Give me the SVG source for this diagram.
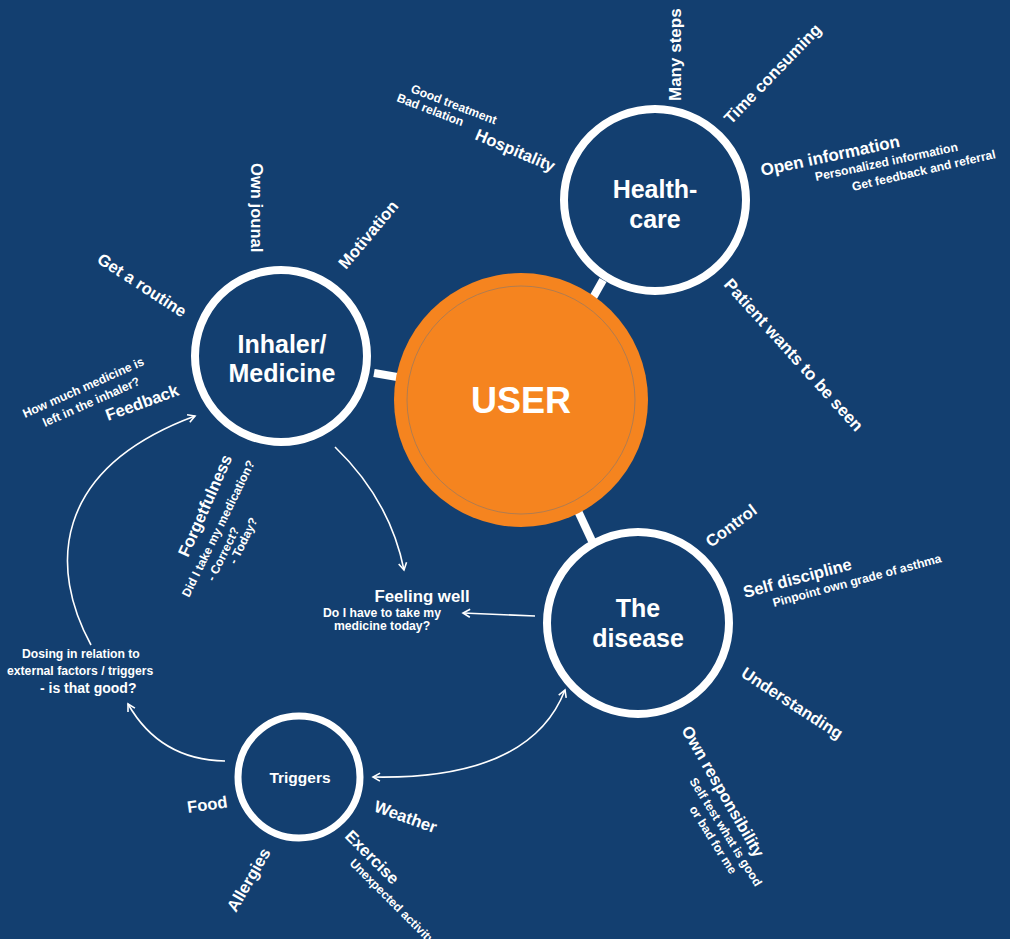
<svg xmlns="http://www.w3.org/2000/svg" width="1010" height="939" viewBox="0 0 1010 939">
<defs>
<style>
.t{font-family:"Liberation Sans",Arial,sans-serif;font-weight:bold;fill:#fff}
.ring{fill:none;stroke:#fff;stroke-width:8}
.link{stroke:#fff;stroke-width:8;stroke-linecap:butt}
.arr{fill:none;stroke:#fff;stroke-width:1.6}
.f16{font-size:16.6px}
.f12{font-size:12.2px}
.big{font-size:25px}
</style>
<marker id="ah" viewBox="-10 -6 12 12" markerWidth="12" markerHeight="12" refX="0" refY="0" orient="auto-start-reverse" markerUnits="userSpaceOnUse">
<path d="M -7 -4 L 0 0 L -7 4" fill="none" stroke="#fff" stroke-width="1.6"/>
</marker>
</defs>
<rect x="0" y="0" width="1010" height="939" fill="#133F70"/>

<g id="connectors">
<line class="link" x1="374" y1="373" x2="403" y2="378"/>
<line class="link" x1="590" y1="303" x2="603" y2="280"/>
<line class="link" x1="578" y1="511" x2="592" y2="541"/>
<path class="arr" d="M 335 447 Q 390 500 404 570" marker-end="url(#ah)"/>
<path class="arr" d="M 535 616 L 463 613" marker-end="url(#ah)"/>
<path class="arr" d="M 565 690 Q 530 780 373 777" marker-start="url(#ah)" marker-end="url(#ah)"/>
<path class="arr" d="M 225 761 Q 160 760 128 704" marker-end="url(#ah)"/>
<path class="arr" d="M 91 645 C 50 570 50 470 195 416" marker-end="url(#ah)"/>
</g>

<g id="user">
<circle cx="521" cy="400" r="127" fill="#F5841F"/>
<circle cx="521" cy="400" r="114" fill="none" stroke="#a07a5c" stroke-width="0.8"/>
<text class="t" x="521" y="413" font-size="36" text-anchor="middle">USER</text>
</g>

<g id="healthcare">
<circle class="ring" cx="655" cy="200" r="91"/>
<text class="t big" x="655" y="198" text-anchor="middle">Health-</text>
<text class="t big" x="655" y="228" text-anchor="middle">care</text>
<text class="t f16" transform="translate(474,139) rotate(23)">Hospitality</text>
<text class="t f12" transform="translate(410,92) rotate(21)">Good treatment</text>
<text class="t f12" transform="translate(396,101) rotate(21)">Bad relation</text>
<text class="t" font-size="17" transform="translate(681,101) rotate(-90)">Many steps</text>
<text class="t f16" transform="translate(731,125) rotate(-46)">Time consuming</text>
<text class="t" font-size="17" transform="translate(762,176) rotate(-12)">Open information</text>
<text class="t f12" transform="translate(816,181) rotate(-12)">Personalized information</text>
<text class="t f12" transform="translate(853,191) rotate(-13)">Get feedback and referral</text>
<text class="t" font-size="17" transform="translate(723,285) rotate(48)">Patient wants to be seen</text>
</g>

<g id="inhaler">
<circle class="ring" cx="281" cy="356" r="86"/>
<text class="t big" x="282" y="353" text-anchor="middle">Inhaler/</text>
<text class="t big" x="282" y="382" text-anchor="middle">Medicine</text>
<text class="t f16" transform="translate(251,163) rotate(90)">Own jounal</text>
<text class="t f16" transform="translate(346,270) rotate(-50)">Motivation</text>
<text class="t f16" transform="translate(96,262) rotate(33)">Get a routine</text>
<text class="t f16" transform="translate(108,421) rotate(-20)">Feedback</text>
<text class="t f12" transform="translate(25,418) rotate(-24)">How much medicine is</text>
<text class="t f12" transform="translate(45,427) rotate(-24)">left in the inhaler?</text>
<text class="t f16" transform="translate(188,558) rotate(-66)">Forgetfulness</text>
<text class="t f12" transform="translate(189,598) rotate(-64)">Did I take my medication?</text>
<text class="t f12" transform="translate(214,582) rotate(-64)">- Correct?</text>
<text class="t f12" transform="translate(236,565) rotate(-64)">- Today?</text>
</g>

<g id="feeling-well">
<text class="t" font-size="16.8" x="422" y="602" text-anchor="middle">Feeling well</text>
<text class="t f12" x="382" y="617" text-anchor="middle">Do I have to take my</text>
<text class="t f12" x="382" y="630" text-anchor="middle">medicine today?</text>
</g>

<g id="disease">
<circle class="ring" cx="638" cy="623" r="91"/>
<text class="t big" x="638" y="617" text-anchor="middle">The</text>
<text class="t big" x="638" y="647" text-anchor="middle">disease</text>
<text class="t f16" transform="translate(711,548) rotate(-37)">Control</text>
<text class="t f16" transform="translate(745,598) rotate(-15)">Self discipline</text>
<text class="t f12" transform="translate(774,607) rotate(-15)">Pinpoint own grade of asthma</text>
<text class="t f16" transform="translate(740,676) rotate(33)">Understanding</text>
<text class="t f16" transform="translate(681,730) rotate(60)">Own responsibility</text>
<text class="t f12" transform="translate(689,781) rotate(58)">Self test what is good</text>
<text class="t f12" transform="translate(689,809) rotate(58)">or bad for me</text>
</g>

<g id="dosing">
<text class="t f12" x="22" y="658">Dosing in relation to</text>
<text class="t f12" x="7" y="675">external factors / triggers</text>
<text class="t" font-size="14" x="40" y="693">- is that good?</text>
</g>

<g id="triggers">
<circle cx="299" cy="777" r="61" fill="none" stroke="#fff" stroke-width="7"/>
<text class="t" font-size="15.5" x="300" y="783" text-anchor="middle">Triggers</text>
<text class="t f16" transform="translate(188,813) rotate(-8)">Food</text>
<text class="t f16" transform="translate(373,811) rotate(20)">Weather</text>
<text class="t f16" transform="translate(344,837) rotate(45)">Exercise</text>
<text class="t f12" transform="translate(349,864) rotate(45)">Unexpected activity</text>
<text class="t f16" transform="translate(236,913) rotate(-60)">Allergies</text>
</g>
</svg>
